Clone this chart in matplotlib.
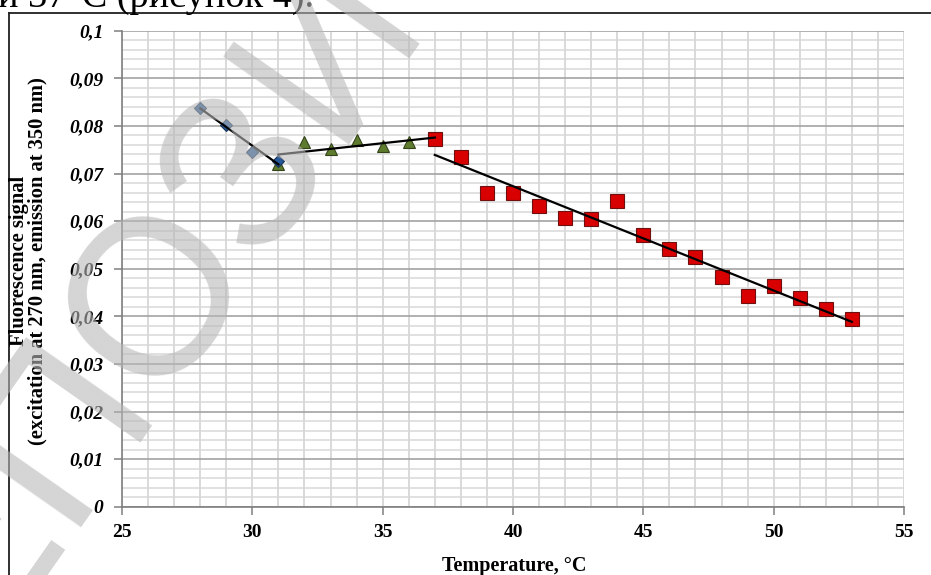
import numpy as np
import matplotlib
matplotlib.use('Agg')
import matplotlib.pyplot as plt
from matplotlib.ticker import MultipleLocator, FuncFormatter
from matplotlib.lines import Line2D

# temperature (°C) and fluorescence signal
t_blue = [28, 29, 30, 31]
f_blue = [0.0838, 0.0802, 0.0746, 0.0726]

t_green = [31, 32, 33, 34, 35, 36, 37]
f_green = [0.0719, 0.0767, 0.0751, 0.0770, 0.0758, 0.0767, 0.0772]

t_red = [37, 38, 39, 40, 41, 42, 43, 44, 45, 46, 47, 48, 49, 50, 51, 52, 53]
f_red = [0.0772, 0.0735, 0.0658, 0.0658, 0.0632, 0.0607, 0.0605, 0.0642,
         0.0571, 0.0541, 0.0525, 0.0483, 0.0443, 0.0464, 0.0438, 0.0415, 0.0394]

W, H = 931, 575
fig = plt.figure(figsize=(W / 100, H / 100), dpi=100)
ax = fig.add_axes([122 / W, (H - 506.7) / H, (904 - 122) / W, (506.7 - 30.7) / H])

serif = 'Liberation Serif'

# grid
ax.set_axisbelow(True)
ax.xaxis.set_major_locator(MultipleLocator(5))
ax.xaxis.set_minor_locator(MultipleLocator(1))
ax.yaxis.set_major_locator(MultipleLocator(0.01))
ax.yaxis.set_minor_locator(MultipleLocator(0.002))
ax.grid(which='major', axis='y', color='#a3a3a3', lw=1.2)
ax.grid(which='minor', axis='y', color='#d8d8d8', lw=1.1)
ax.grid(which='both', axis='x', color='#d0d0d0', lw=1.1)

# markers
ax.plot(t_green, f_green, ls='none', marker='^', ms=8.5, mfc='#5e7b2e', mec='#34441a', mew=0.8, zorder=3)
ax.plot(t_blue, f_blue, ls='none', marker='D', ms=6.6, mfc='#26599a', mec='#1a3557', mew=0.8, zorder=3.5)
ax.plot(t_red, f_red, ls='none', marker='s', ms=9.6, mfc='#d80000', mec='#6e1010', mew=0.8, zorder=4)

# linear trend lines
for t, f in [(t_blue, f_blue), (t_green, f_green), (t_red, f_red)]:
    k, b = np.polyfit(t, f, 1)
    xs = np.array([t[0], t[-1]])
    ax.plot(xs, k * xs + b, color='black', lw=1.6, zorder=5)

ax.set_xlim(25, 55)
ax.set_ylim(0, 0.1)

for s in ['top', 'right']:
    ax.spines[s].set_visible(False)
for s in ['left', 'bottom']:
    ax.spines[s].set_color('#7f7f7f')
    ax.spines[s].set_linewidth(1.2)

ax.tick_params(which='major', direction='out', length=5.5, width=1.1, color='#7f7f7f')
ax.tick_params(which='minor', length=0)
ax.tick_params(axis='y', pad=8)
ax.tick_params(axis='x', pad=7)

ax.yaxis.set_major_formatter(FuncFormatter(lambda v, p: ('%g' % round(v, 4)).replace('.', ',')))
for lab in ax.get_yticklabels():
    lab.set_fontfamily(serif)
    lab.set_fontweight('bold')
    lab.set_fontstyle('italic')
    lab.set_fontsize(14)
for lab in ax.get_xticklabels():
    lab.set_fontfamily(serif)
    lab.set_fontweight('bold')
    lab.set_fontsize(14)

# no gridline on the top and right edges
ax.yaxis.get_gridlines()[-1].set_visible(False)
ax.xaxis.get_gridlines()[-1].set_visible(False)

fig.text(514 / W, (H - 571) / H, 'Temperature, °C', family=serif, weight='bold',
         fontsize=14.5, ha='center', va='baseline')
fig.text(28 / W, (H - 261) / H, 'Fluorescence signal\n(excitation at 270 nm, emission at 350 nm)',
         family=serif, weight='bold', fontsize=14.8, rotation=90, ha='center', va='center',
         multialignment='center', linespacing=0.92)

# page fragment: text line above the chart and the chart border
fig.text(-2 / W, (H - 6.5) / H, 'и 37°C (рисунок 4).', family=serif, fontsize=27.5,
         ha='left', va='baseline')
fig.add_artist(Line2D([9 / W, 1], [(H - 13) / H] * 2, color='#202020', lw=1.3))
fig.add_artist(Line2D([9 / W] * 2, [0, (H - 13) / H], color='#202020', lw=1.3))

# watermark
th = np.deg2rad(55)
ox, oy = 140, H - 300 + 22
px = ox - 543 * np.cos(th) + 80 * np.sin(th)
py = oy - 543 * np.sin(th) - 80 * np.cos(th)
fig.text(px / W, py / H, 'РЕПОЗИТОРИЙ', family='Liberation Sans', fontsize=160,
         color='#b8b8b8', alpha=0.6, rotation=55, rotation_mode='anchor',
         ha='left', va='baseline', zorder=20)

fig.savefig('out.png', dpi=100)
